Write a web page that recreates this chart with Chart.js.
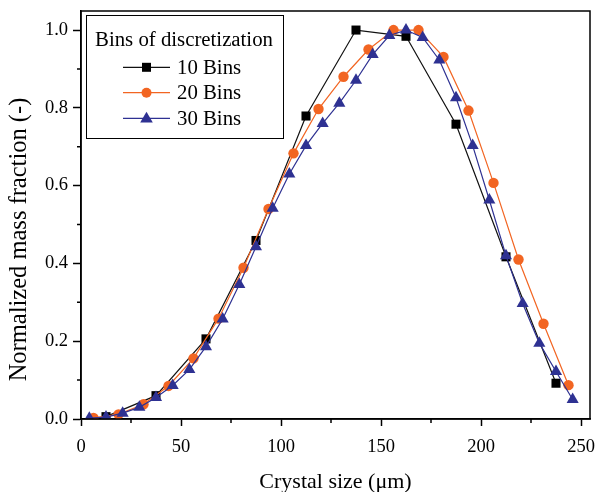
<!DOCTYPE html>
<html lang="en">
<head>
    <meta charset="UTF-8">
    <title>Normalized mass fraction vs crystal size</title>
    <script src="https://cdn.jsdelivr.net/npm/chart.js"></script>
    <style>
        html, body { margin: 0; padding: 0; background: #fff; }
        #wrap { width: 598px; height: 492px; }
    </style>
</head>
<body>
    <div id="wrap"><canvas id="psdChart" width="598" height="492"></canvas></div>
    <script>
        // Data
        const bins10X = [12.5, 37.5, 62.5, 87.5, 112.5, 137.5, 162.5, 187.5, 212.5, 237.5];
        const bins10Y = [0.006, 0.06, 0.206, 0.459, 0.779, 1.0, 0.984, 0.758, 0.417, 0.092];

        const bins20X = [6.25, 18.75, 31.25, 43.75, 56.25, 68.75, 81.25, 93.75, 106.25, 118.75,
                         131.25, 143.75, 156.25, 168.75, 181.25, 193.75, 206.25, 218.75, 231.25, 243.75];
        const bins20Y = [0.003, 0.012, 0.038, 0.085, 0.156, 0.258, 0.389, 0.54, 0.683, 0.797,
                         0.88, 0.95, 1.0, 1.0, 0.931, 0.793, 0.607, 0.41, 0.245, 0.087];

        const bins30X = [4.17, 12.5, 20.83, 29.17, 37.5, 45.83, 54.17, 62.5, 70.83, 79.17,
                         87.5, 95.83, 104.17, 112.5, 120.83, 129.17, 137.5, 145.83, 154.17, 162.5,
                         170.83, 179.17, 187.5, 195.83, 204.17, 212.5, 220.83, 229.17, 237.5, 245.83];
        const bins30Y = [0.002, 0.005, 0.015, 0.03, 0.055, 0.086, 0.127, 0.186, 0.257, 0.346,
                         0.443, 0.542, 0.63, 0.703, 0.76, 0.812, 0.871, 0.937, 0.986, 1.0,
                         0.981, 0.923, 0.826, 0.703, 0.563, 0.42, 0.297, 0.195, 0.122, 0.05];

        const xTicks = [0, 50, 100, 150, 200, 250];
        const xMinor = [25, 75, 125, 175, 225];
        const yTicks = [0.0, 0.2, 0.4, 0.6, 0.8, 1.0];
        const yMinor = [0.1, 0.3, 0.5, 0.7, 0.9];

        const xTitle = 'Crystal size (\u03bcm)';
        const yTitle = 'Normalized mass fraction (-)';
        const legendTitle = 'Bins of discretization';
        const seriesNames = ['10 Bins', '20 Bins', '30 Bins'];

        const BLACK = '#111111';
        const ORANGE = '#f26522';
        const BLUE = '#2e3192';
        const FONT = '"Liberation Serif", "Times New Roman", serif';

        function toPoints(xs, ys) {
            return xs.map((x, i) => ({ x: x, y: ys[i] }));
        }

        // frame, minor ticks, axis titles and the legend box
        const framePlugin = {
            id: 'frame',
            afterDraw(chart) {
                const ctx = chart.ctx;
                const a = chart.chartArea;
                const xs = chart.scales.x;
                const ys = chart.scales.y;
                ctx.save();
                ctx.strokeStyle = '#000';
                ctx.lineWidth = 1.5;
                ctx.strokeRect(a.left, a.top, a.right - a.left, a.bottom - a.top);

                ctx.beginPath();
                xMinor.forEach(v => {
                    const px = xs.getPixelForValue(v);
                    ctx.moveTo(px, a.bottom);
                    ctx.lineTo(px, a.bottom + 4);
                });
                yMinor.forEach(v => {
                    const py = ys.getPixelForValue(v);
                    ctx.moveTo(a.left, py);
                    ctx.lineTo(a.left - 4, py);
                });
                ctx.stroke();

                // axis titles
                ctx.fillStyle = '#000';
                ctx.textBaseline = 'alphabetic';
                ctx.textAlign = 'center';
                ctx.font = '22px ' + FONT;
                ctx.fillText(xTitle, (a.left + a.right) / 2, 488);
                ctx.save();
                ctx.translate(25.5, 239.5);
                ctx.rotate(-Math.PI / 2);
                ctx.font = '24.5px ' + FONT;
                ctx.fillText(yTitle, 0, 0);
                ctx.restore();

                // legend
                const box = { l: 86, t: 15, r: 283, b: 138 };
                ctx.fillStyle = '#fff';
                ctx.fillRect(box.l, box.t, box.r - box.l, box.b - box.t);
                ctx.lineWidth = 1;
                ctx.strokeStyle = '#000';
                ctx.strokeRect(box.l + 0.5, box.t + 0.5, box.r - box.l, box.b - box.t);

                ctx.fillStyle = '#000';
                ctx.font = '20.8px ' + FONT;
                ctx.textAlign = 'center';
                ctx.fillText(legendTitle, 184, 46);

                const rows = [67.3, 92.7, 118.3];
                const bases = [73.5, 99.3, 125];
                chart.data.datasets.forEach((ds, i) => {
                    const y = rows[i];
                    ctx.strokeStyle = ds.borderColor;
                    ctx.lineWidth = 1.2;
                    ctx.beginPath();
                    ctx.moveTo(123, y);
                    ctx.lineTo(170, y);
                    ctx.stroke();
                    ctx.fillStyle = ds.pointBackgroundColor;
                    ctx.beginPath();
                    if (ds.pointStyle === 'rect') {
                        ctx.rect(142, y - 4.5, 9, 9);
                    } else if (ds.pointStyle === 'circle') {
                        ctx.arc(146.5, y, 5, 0, Math.PI * 2);
                    } else {
                        ctx.moveTo(146.5, y - 6.5);
                        ctx.lineTo(152.8, y + 4.3);
                        ctx.lineTo(140.2, y + 4.3);
                        ctx.closePath();
                    }
                    ctx.fill();
                    ctx.fillStyle = '#000';
                    ctx.textAlign = 'left';
                    ctx.fillText(ds.label, 177, bases[i]);
                });
                ctx.restore();
            }
        };

        Chart.defaults.color = '#000';
        Chart.defaults.font.family = FONT;

        new Chart(document.getElementById('psdChart').getContext('2d'), {
            type: 'line',
            data: {
                datasets: [{
                    label: seriesNames[0],
                    data: toPoints(bins10X, bins10Y),
                    borderColor: BLACK,
                    backgroundColor: BLACK,
                    pointBackgroundColor: '#000',
                    pointBorderColor: '#000',
                    pointBorderWidth: 0,
                    pointStyle: 'rect',
                    pointRadius: 6.4,
                    borderWidth: 1.2,
                    order: 2
                }, {
                    label: seriesNames[1],
                    data: toPoints(bins20X, bins20Y),
                    borderColor: ORANGE,
                    backgroundColor: ORANGE,
                    pointBackgroundColor: ORANGE,
                    pointBorderColor: ORANGE,
                    pointBorderWidth: 0,
                    pointStyle: 'circle',
                    pointRadius: 5.2,
                    borderWidth: 1.2,
                    order: 1
                }, {
                    label: seriesNames[2],
                    data: toPoints(bins30X, bins30Y),
                    borderColor: BLUE,
                    backgroundColor: BLUE,
                    pointBackgroundColor: BLUE,
                    pointBorderColor: BLUE,
                    pointBorderWidth: 0,
                    pointStyle: 'triangle',
                    pointRadius: 7,
                    borderWidth: 1.2,
                    order: 0
                }]
            },
            options: {
                responsive: false,
                animation: false,
                devicePixelRatio: 1,
                layout: { padding: { top: 11, right: 8, left: 0, bottom: 0 } },
                plugins: {
                    legend: { display: false },
                    tooltip: { enabled: false }
                },
                scales: {
                    x: {
                        type: 'linear',
                        min: 0,
                        max: 254.5,
                        afterBuildTicks: s => { s.ticks = xTicks.map(v => ({ value: v })); },
                        afterFit: s => { s.height = 73; s.paddingLeft = 0; s.paddingRight = 0; },
                        grid: { display: true, drawOnChartArea: false, tickLength: 7, tickColor: '#000', tickWidth: 1.5 },
                        border: { display: true, color: '#000', width: 1.5 },
                        ticks: { font: { size: 18.5 }, padding: 10, maxRotation: 0, callback: v => String(v) },
                        title: { display: false }
                    },
                    y: {
                        type: 'linear',
                        min: 0,
                        max: 1.049,
                        afterBuildTicks: s => { s.ticks = yTicks.map(v => ({ value: v })); },
                        afterFit: s => { s.width = 81; s.paddingTop = 0; s.paddingBottom = 0; },
                        grid: { display: true, drawOnChartArea: false, tickLength: 8, tickColor: '#000', tickWidth: 1.5 },
                        border: { display: true, color: '#000', width: 1.5 },
                        ticks: { font: { size: 18.5 }, padding: 5, callback: v => v.toFixed(1) },
                        title: { display: false }
                    }
                }
            },
            plugins: [framePlugin]
        });
    </script>
</body>
</html>
